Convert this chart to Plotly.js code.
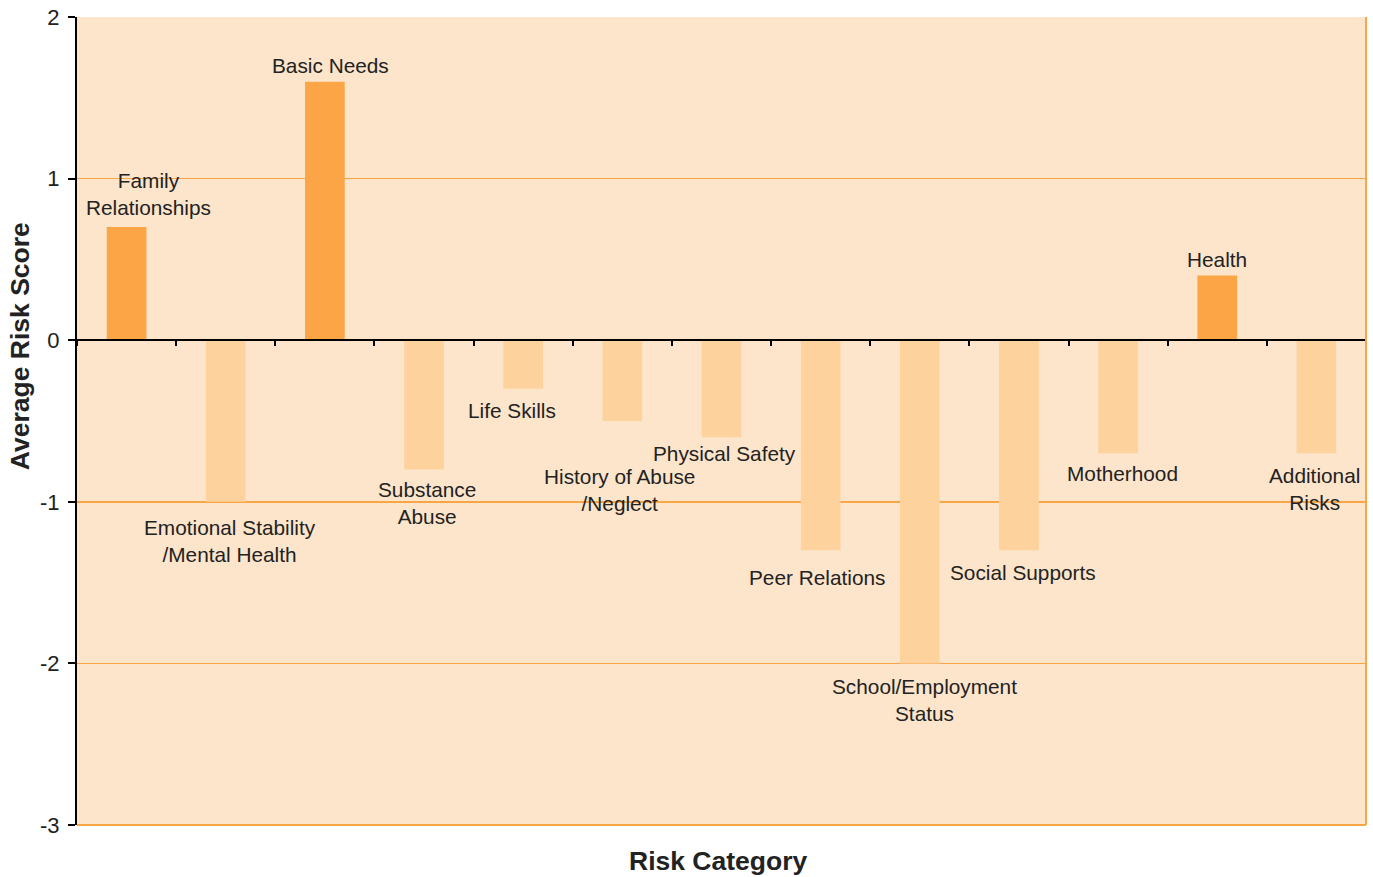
<!DOCTYPE html>
<html><head><meta charset="utf-8">
<script src="https://cdn.plot.ly/plotly-3.0.1.min.js"></script>
<style>html,body{margin:0;padding:0;background:#fff}#chart{width:1373px;height:877px}</style>
</head><body><div id="chart"></div>
<script>
const categories = ["Family Relationships","Emotional Stability /Mental Health","Basic Needs","Substance Abuse","Life Skills","History of Abuse /Neglect","Physical Safety","Peer Relations","School/Employment Status","Social Supports","Motherhood","Health","Additional Risks"];
const labelTexts = ["Family<br>Relationships","Emotional Stability<br>/Mental Health","Basic Needs","Substance<br>Abuse","Life Skills","History of Abuse<br>/Neglect","Physical Safety","Peer Relations","School/Employment<br>Status","Social Supports","Motherhood","Health","Additional<br>Risks"];
const scores = [0.7,-1.0,1.6,-0.8,-0.3,-0.5,-0.6,-1.3,-2.0,-1.3,-0.7,0.4,-0.7];
const yTicks = [-3,-2,-1,0,1,2];
// label offsets (pixels) relative to bar end
const labelDx = [22,4,6,3,-11,-3,3,-4,5,4,4,0,-2];
const labelDy = [-33,39,-16,34,22,69,16,27,37,22,20,-16,36];

const FONT = "Liberation Sans, Arial, sans-serif";
const posColor = "#FBA546", negColor = "#FDD29D";
const trace = {
  type:"bar", x:categories, y:scores,
  marker:{color:scores.map(v=>v>=0?posColor:negColor)},
  hoverinfo:"x+y"
};
const annotations = categories.map((c,i)=>({
  x:c, y:scores[i], xref:"x", yref:"y", text:labelTexts[i], showarrow:false,
  xshift:labelDx[i], yshift:-labelDy[i], xanchor:"center", yanchor:"middle",
  font:{family:FONT, size:20.8, color:"#222"}
}));
annotations.push({xref:"paper", yref:"paper", x:0.497, y:-0.045, xanchor:"center", yanchor:"middle",
  text:"<b>Risk Category</b>", showarrow:false, font:{family:FONT, size:26.5, color:"#222"}});
annotations.push({xref:"paper", yref:"paper", x:-0.044, y:0.593, xanchor:"center", yanchor:"middle", textangle:-90,
  text:"<b>Average Risk Score</b>", showarrow:false, font:{family:FONT, size:26.5, color:"#222"}});

const layout = {
  width:1373, height:877,
  margin:{l:77, r:7, t:17, b:52},
  paper_bgcolor:"#fff", plot_bgcolor:"#FCE5CB",
  bargap:0.6, showlegend:false,
  xaxis:{type:"category", anchor:"free", position:0.6, showline:true, linecolor:"#000", linewidth:2,
    ticks:"outside", tickson:"boundaries", ticklen:5, tickwidth:2, tickcolor:"#000",
    showticklabels:false, showgrid:false, zeroline:false, fixedrange:true},
  yaxis:{range:[-3,2], tickvals:yTicks, ticktext:yTicks.map(String), showline:true, linecolor:"#000", linewidth:2,
    ticks:"outside", ticklen:7, tickwidth:2, tickcolor:"#000", ticklabelstandoff:4,
    showgrid:true, gridcolor:"#F9A646", gridwidth:1.5, zeroline:false,
    tickfont:{family:FONT, size:22, color:"#222"}},
  shapes:[{type:"line", xref:"paper", yref:"paper", x0:1, x1:1, y0:0, y1:1, line:{color:"#F9A646", width:2}},
          {type:"line", xref:"paper", yref:"paper", x0:0, x1:1, y0:0, y1:0, line:{color:"#F9A646", width:2}}],
  annotations:annotations
};
Plotly.newPlot("chart",[trace],layout,{displayModeBar:false,staticPlot:true});
</script></body></html>
